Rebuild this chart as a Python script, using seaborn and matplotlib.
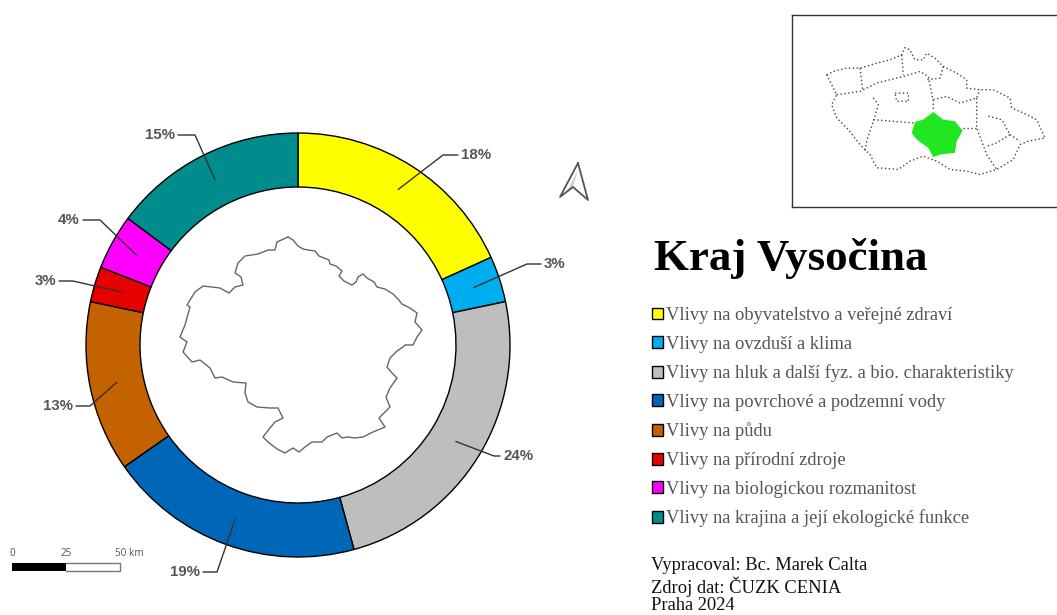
import numpy as np
import seaborn as sns
from matplotlib import pyplot as plt

# ring values (labels are the rounded ones)
shares = [18.2, 3.5, 24.0, 19.5, 13.0, 2.7, 4.2, 14.8]
share_labels = ["18%", "3%", "24%", "19%", "13%", "3%", "4%", "15%"]
categories = [
    "Vlivy na obyvatelstvo a veřejné zdraví",
    "Vlivy na ovzduší a klima",
    "Vlivy na hluk a další fyz. a bio. charakteristiky",
    "Vlivy na povrchové a podzemní vody",
    "Vlivy na půdu",
    "Vlivy na přírodní zdroje",
    "Vlivy na biologickou rozmanitost",
    "Vlivy na krajina a její ekologické funkce",
]
colors = ["#FFFF00", "#00AEEF", "#BEBEBE", "#0066B8", "#C46200", "#E60000", "#FF00FF", "#008C8C"]

# region outline, map units = picture pixels
region_x = [288, 293, 298, 303, 308, 315, 319, 324, 329, 330, 336, 342, 339, 344, 352, 356, 358, 363,
            367, 374, 377, 385, 393, 398, 402, 410, 417, 415, 422, 417, 413, 405, 403, 397, 390, 387,
            392, 397, 390, 386, 390, 379, 385, 373, 363, 355, 348, 342, 337, 327, 322, 312, 305, 299,
            293, 285, 277, 268, 263, 270, 275, 283, 278, 270, 257, 248, 245, 246, 233, 222, 215, 210,
            200, 192, 183, 187, 180, 185, 190, 187, 195, 203, 220, 229, 235, 243, 241, 235, 238, 245,
            258, 268, 275, 277, 288]
region_y = [237, 240, 246, 249, 250, 251, 256, 258, 260, 264, 266, 271, 276, 281, 285, 282, 277, 274,
            278, 282, 287, 289, 294, 299, 304, 308, 313, 322, 330, 337, 345, 345, 347, 351, 358, 367,
            373, 378, 388, 397, 407, 418, 427, 432, 437, 438, 437, 438, 433, 437, 442, 442, 447, 452,
            448, 453, 449, 442, 437, 428, 422, 418, 408, 408, 407, 402, 393, 383, 382, 377, 378, 368,
            360, 362, 352, 342, 337, 325, 307, 305, 292, 286, 288, 293, 287, 285, 277, 273, 263, 256,
            254, 250, 250, 242, 237]

# overview map, own units
vysocina_x = [460, 490, 525, 548, 530, 525, 480, 460, 445, 410, 395, 405, 430, 460]
vysocina_y = [322, 345, 350, 378, 410, 445, 450, 458, 430, 405, 385, 352, 345, 322]
border_x = [140, 160, 200, 240, 290, 330, 365, 375, 390, 405, 430, 440, 465, 490, 530, 560, 560, 600, 640,
            690, 695, 730, 770, 795, 745, 720, 700, 650, 600, 560, 510, 470, 430, 390, 355, 290, 270, 240,
            205, 170, 155, 170, 140]
border_y = [210, 200, 190, 190, 175, 165, 150, 128, 135, 165, 165, 145, 160, 185, 205, 225, 250, 255, 255,
            280, 310, 325, 345, 400, 410, 420, 465, 495, 510, 500, 495, 470, 455, 470, 495, 490, 450, 420,
            375, 340, 300, 270, 210]
districts = [
    ([170, 240, 290, 370, 420, 445, 460, 460], [270, 260, 235, 215, 200, 215, 290, 320]),
    ([240, 248], [190, 255]),
    ([365, 370], [150, 210]),
    ([490, 480, 440], [185, 220, 225]),
    ([460, 500, 540, 590, 600], [285, 275, 295, 280, 255]),
    ([280, 295, 280, 260, 255], [280, 300, 350, 410, 440]),
    ([280, 340, 400], [345, 350, 355]),
    ([345, 385, 385, 350, 345], [265, 265, 290, 290, 265]),
    ([590, 590, 620, 650], [280, 370, 450, 495]),
    ([550, 590], [370, 370]),
    ([625, 665, 690, 650, 620], [335, 345, 390, 415, 425]),
    ([690, 720], [390, 410]),
]

scale_ticks = ["0", "25", "50 km"]
credits = ["Vypracoval: Bc. Marek Calta", "Zdroj dat: ČUZK CENIA", "Praha 2024"]

W, H = 1057, 615
# leader elbows in pixels: elbow x, elbow y, end x
leaders = [(443, 155, 458), (527, 264, 541), (494, 456, 500), (217, 572, 203),
           (90, 406, 76), (73, 281, 59), (100, 220, 83), (195, 135, 178)]

sns.set_theme(style="white")
fig = plt.figure(figsize=(W / 100, H / 100), dpi=100)


def px_axes(x0, y0, x1, y1):
    # axes from pixel box, y counted from the top
    return fig.add_axes([x0 / W, 1 - y1 / H, (x1 - x0) / W, (y1 - y0) / H])


# ring
ax = px_axes(86, 133, 510, 557)
wedges, _ = ax.pie(shares, colors=sns.color_palette(colors), startangle=90, counterclock=False, radius=1,
                   wedgeprops=dict(width=54 / 212, edgecolor="black", linewidth=1))
ax.set_xlim(-1, 1)
ax.set_ylim(-1, 1)

# pixel overlay: leaders, region outline, north arrow, scale bar, texts
over = px_axes(0, 0, W, H)
over.set_xlim(0, W)
over.set_ylim(H, 0)
over.axis("off")

angles = 360 * (np.cumsum(shares) - np.array(shares) / 2) / sum(shares)
for angle, label, (ex, ey, tx) in zip(angles, share_labels, leaders):
    sx = 298 + 185 * np.sin(np.radians(angle))
    sy = 345 - 185 * np.cos(np.radians(angle))
    over.plot([sx, ex, tx], [sy, ey, ey], color="#333333", lw=1)
    side = 1 if tx > ex else -1
    over.text(tx + side * 3, ey, label, ha="left" if side > 0 else "right", va="center",
              family="Liberation Sans", weight="bold", fontsize=10.8, color="#555555")

sns.lineplot(x=region_x, y=region_y, sort=False, estimator=None, color="#666666", lw=1, ax=over)

over.fill([578, 573, 566], [170, 187, 193], color="#D0D0D0", lw=0)
over.plot([578, 560, 573, 588, 578], [163, 197, 187, 200, 163], color="#555555", lw=1.3)

over.fill([12, 66, 66, 12], [563, 563, 571, 571], color="black", lw=0)
over.plot([66, 120, 120, 66], [563, 563, 571, 571], color="#777777", lw=1)
for xt, tick in zip([12, 66, 129], scale_ticks):
    over.text(xt, 553, tick, ha="center", va="center", family="Open Sans", fontsize=7.2, color="#555555")

over.text(654, 270, "Kraj Vysočina", family="Liberation Serif", weight="bold", fontsize=32.3, color="black",
          ha="left", va="baseline")
for yt, line in zip([565, 587, 606], credits):
    over.text(651, yt, line, family="Liberation Serif", fontsize=13.3, color="#111111", ha="left", va="center")

fig.legend(wedges, categories, loc="upper left", bbox_to_anchor=(652 / W, 1 - 307 / H), frameon=False,
           prop=dict(family="Liberation Serif", size=13.35), labelcolor="#555555", handlelength=0.61,
           handleheight=0.61, handletextpad=0.17, labelspacing=0.63, borderpad=0, borderaxespad=0)

# overview map
inset = px_axes(792, 15, W, 207)
inset.set_xlim(36, 831)
inset.set_ylim(608, 30)
inset.set(xticks=[], yticks=[])
inset.fill(vysocina_x, vysocina_y, color="#22E622", lw=0, zorder=3)
sns.lineplot(x=border_x, y=border_y, sort=False, estimator=None, color="#444444", lw=1,
             linestyle=(0, (1, 1.8)), ax=inset)
for dx, dy in districts:
    sns.lineplot(x=dx, y=dy, sort=False, estimator=None, color="#444444", lw=1,
                 linestyle=(0, (1, 1.8)), ax=inset)
sns.despine(ax=inset, right=True, top=False, left=False, bottom=False)
for side in ["top", "left", "bottom"]:
    inset.spines[side].set_color("#333333")
    inset.spines[side].set_linewidth(1)

fig.savefig("out.png", dpi=100)
